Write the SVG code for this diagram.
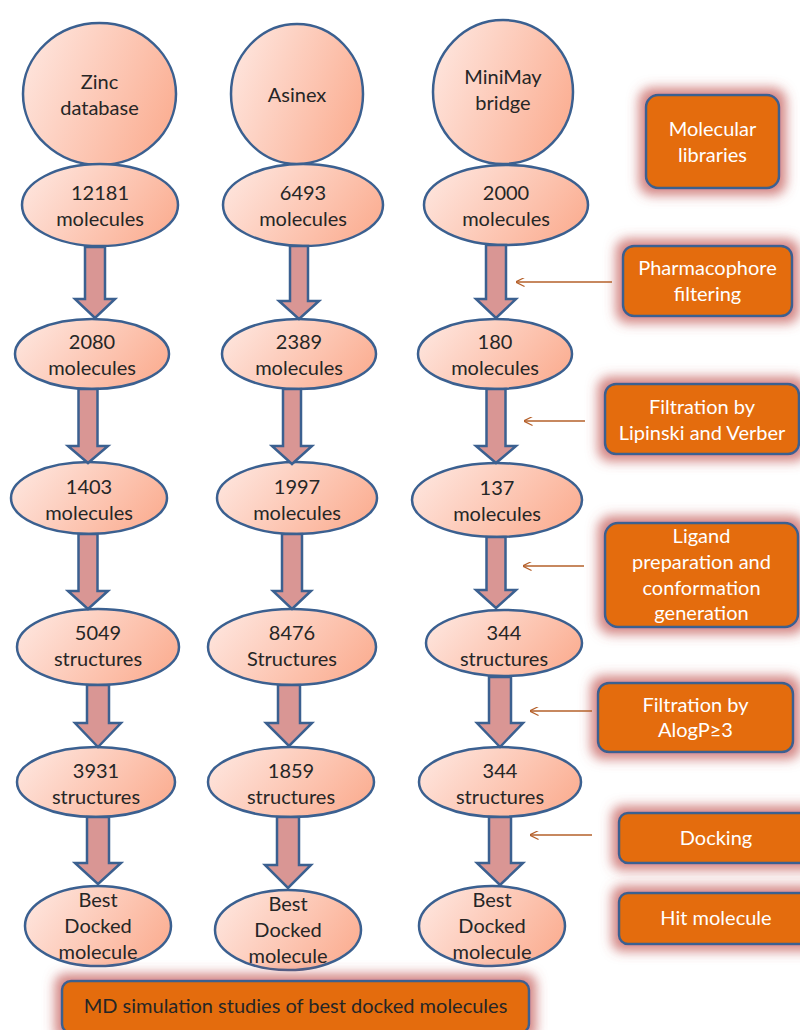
<svg xmlns="http://www.w3.org/2000/svg" width="800" height="1030" viewBox="0 0 800 1030">
<defs>
<linearGradient id="pink" x1="0" y1="0.3" x2="1" y2="0.7">
<stop offset="0" stop-color="#FEE4DC"/>
<stop offset="1" stop-color="#FBAE92"/>
</linearGradient>
<filter id="glow" x="-30%" y="-50%" width="160%" height="200%">
<feMorphology in="SourceAlpha" operator="dilate" radius="6" result="d"/>
<feGaussianBlur in="d" stdDeviation="6" result="b"/>
<feFlood flood-color="#C0504D" flood-opacity="0.7"/>
<feComposite in2="b" operator="in" result="g"/>
<feMerge><feMergeNode in="g"/><feMergeNode in="SourceGraphic"/></feMerge>
</filter>
<marker id="open" viewBox="0 0 10 10" refX="0.5" refY="5" markerWidth="9" markerHeight="9" markerUnits="userSpaceOnUse" orient="auto">
<path d="M10,0 L0,5 L10,10" fill="none" stroke="#B5602A" stroke-width="1.3"/>
</marker>
</defs>
<style>
.n ellipse{fill:url(#pink);stroke:#3B6090;stroke-width:2.5}
.t{font-family:Lato,"Open Sans","Liberation Sans",sans-serif;font-size:20px;fill:#262626;text-anchor:middle}
.w{fill:#FFFFFF}
.box rect{fill:#E46C0A;stroke:#3B6090;stroke-width:2.5;filter:url(#glow)}
.arr polygon{fill:#D99694;stroke:#3B6090;stroke-width:2.5;stroke-linejoin:miter}
.thin line{stroke:#B5602A;stroke-width:1.3;marker-start:url(#open)}
</style>

<g id="n-zinc" class="n"><ellipse cx="99.5" cy="94" rx="76.5" ry="71"/><text class="t" x="99.5" y="89">Zinc</text><text class="t" x="99.5" y="115">database</text></g>
<g id="n-asinex" class="n"><ellipse cx="297" cy="94" rx="66" ry="70"/><text class="t" x="297" y="102">Asinex</text></g>
<g id="n-minimay" class="n"><ellipse cx="503" cy="92" rx="70" ry="72"/><text class="t" x="503" y="84">MiniMay</text><text class="t" x="503" y="110">bridge</text></g>

<g id="n-12181" class="n"><ellipse cx="100" cy="205" rx="78" ry="41"/><text class="t" x="100" y="200">12181</text><text class="t" x="100" y="226">molecules</text></g>
<g id="n-6493" class="n"><ellipse cx="303" cy="205" rx="80" ry="41"/><text class="t" x="303" y="200">6493</text><text class="t" x="303" y="226">molecules</text></g>
<g id="n-2000" class="n"><ellipse cx="506" cy="205" rx="82" ry="40"/><text class="t" x="506" y="200">2000</text><text class="t" x="506" y="226">molecules</text></g>

<g id="n-2080" class="n"><ellipse cx="92" cy="354" rx="77" ry="35"/><text class="t" x="92" y="349">2080</text><text class="t" x="92" y="375">molecules</text></g>
<g id="n-2389" class="n"><ellipse cx="299" cy="354" rx="77" ry="35"/><text class="t" x="299" y="349">2389</text><text class="t" x="299" y="375">molecules</text></g>
<g id="n-180" class="n"><ellipse cx="495" cy="354" rx="77" ry="35"/><text class="t" x="495" y="349">180</text><text class="t" x="495" y="375">molecules</text></g>

<g id="n-1403" class="n"><ellipse cx="89" cy="498" rx="78" ry="36"/><text class="t" x="89" y="494">1403</text><text class="t" x="89" y="520">molecules</text></g>
<g id="n-1997" class="n"><ellipse cx="297" cy="498" rx="80" ry="36"/><text class="t" x="297" y="494">1997</text><text class="t" x="297" y="520">molecules</text></g>
<g id="n-137" class="n"><ellipse cx="497" cy="500" rx="85" ry="37"/><text class="t" x="497" y="495">137</text><text class="t" x="497" y="521">molecules</text></g>

<g id="n-5049" class="n"><ellipse cx="98" cy="647" rx="81" ry="38"/><text class="t" x="98" y="640">5049</text><text class="t" x="98" y="666">structures</text></g>
<g id="n-8476" class="n"><ellipse cx="292" cy="647" rx="84" ry="38"/><text class="t" x="292" y="640">8476</text><text class="t" x="292" y="666">Structures</text></g>
<g id="n-344a" class="n"><ellipse cx="504" cy="643" rx="78" ry="33"/><text class="t" x="504" y="640">344</text><text class="t" x="504" y="666">structures</text></g>

<g id="n-3931" class="n"><ellipse cx="96" cy="782" rx="79" ry="35"/><text class="t" x="96" y="778">3931</text><text class="t" x="96" y="804">structures</text></g>
<g id="n-1859" class="n"><ellipse cx="291" cy="782" rx="83" ry="35"/><text class="t" x="291" y="778">1859</text><text class="t" x="291" y="804">structures</text></g>
<g id="n-344b" class="n"><ellipse cx="500" cy="782" rx="81" ry="35"/><text class="t" x="500" y="778">344</text><text class="t" x="500" y="804">structures</text></g>

<g id="n-best1" class="n"><ellipse cx="98" cy="926" rx="73" ry="40"/><text class="t" x="98" y="907">Best</text><text class="t" x="98" y="933">Docked</text><text class="t" x="98" y="959">molecule</text></g>
<g id="n-best2" class="n"><ellipse cx="288" cy="930" rx="73" ry="40"/><text class="t" x="288" y="911">Best</text><text class="t" x="288" y="937">Docked</text><text class="t" x="288" y="963">molecule</text></g>
<g id="n-best3" class="n"><ellipse cx="492" cy="926" rx="73" ry="40"/><text class="t" x="492" y="907">Best</text><text class="t" x="492" y="933">Docked</text><text class="t" x="492" y="959">molecule</text></g>

<g id="b-libraries" class="box"><rect x="646" y="95" width="133" height="93" rx="12"/><text class="t w" x="712.5" y="136">Molecular</text><text class="t w" x="712.5" y="162">libraries</text></g>
<g id="b-pharma" class="box"><rect x="623" y="246" width="169" height="70" rx="11"/><text class="t w" x="707.5" y="275">Pharmacophore</text><text class="t w" x="707.5" y="301">filtering</text></g>
<g id="b-lipinski" class="box"><rect x="605" y="384" width="194" height="70" rx="11"/><text class="t w" x="702" y="414">Filtration by</text><text class="t w" x="702" y="440">Lipinski and Verber</text></g>
<g id="b-ligand" class="box"><rect x="605" y="523" width="193" height="104" rx="13"/><text class="t w" x="701.5" y="543">Ligand</text><text class="t w" x="701.5" y="569">preparation and</text><text class="t w" x="701.5" y="595">conformation</text><text class="t w" x="701.5" y="620">generation</text></g>
<g id="b-alogp" class="box"><rect x="598" y="683" width="195" height="69" rx="11"/><text class="t w" x="695.5" y="712">Filtration by</text><text class="t w" x="695.5" y="737">AlogP≥3</text></g>
<g id="b-docking" class="box"><rect x="619" y="813" width="195" height="50" rx="9"/><text class="t w" x="716" y="845">Docking</text></g>
<g id="b-hit" class="box"><rect x="619" y="893" width="195" height="51" rx="9"/><text class="t w" x="716" y="925">Hit molecule</text></g>
<g id="b-md" class="box"><rect x="62" y="981" width="467" height="52" rx="9"/><text class="t" x="295.5" y="1013">MD simulation studies of best docked molecules</text></g>

<g id="connectors">
<g class="arr">
<polygon points="85,247 105,247 105,299 115,299 95,318 75,299 85,299"/>
<polygon points="78.5,389 97.5,389 97.5,446 108,446 88,463 68,446 78.5,446"/>
<polygon points="78.5,534 97.5,534 97.5,591 108,591 88,609 68,591 78.5,591"/>
<polygon points="87,685 109,685 109,723 121,723 98,747 75,723 87,723"/>
<polygon points="87,817 109,817 109,863 121,863 98,884 75,863 87,863"/>
<polygon points="290,246 308,246 308,301 319,301 299,319 279,301 290,301"/>
<polygon points="283,389 301,389 301,446 312,446 292,464 272,446 283,446"/>
<polygon points="282,534 302,534 302,591 311,591 292,609 273,591 282,591"/>
<polygon points="278,685 300,685 300,723 312,723 289,746 266,723 278,723"/>
<polygon points="277,817 299,817 299,865 311,865 288,888 265,865 277,865"/>
<polygon points="486,245 506,245 506,299 516,299 496,318 476,299 486,299"/>
<polygon points="486.5,389 505.5,389 505.5,446 516,446 496,463 476,446 486.5,446"/>
<polygon points="486.5,537 505.5,537 505.5,590 516,590 496,608 476,590 486.5,590"/>
<polygon points="489,677 511,677 511,723 523,723 500,747 477,723 489,723"/>
<polygon points="489,817 511,817 511,863 523,863 500,885 477,863 489,863"/>
</g>
<g class="thin">
<line x1="516" y1="282" x2="612" y2="282"/>
<line x1="524" y1="421" x2="585" y2="421"/>
<line x1="523" y1="566" x2="584" y2="566"/>
<line x1="530" y1="711" x2="592" y2="711"/>
<line x1="530" y1="835" x2="592" y2="835"/>
</g>
</g>
</svg>
